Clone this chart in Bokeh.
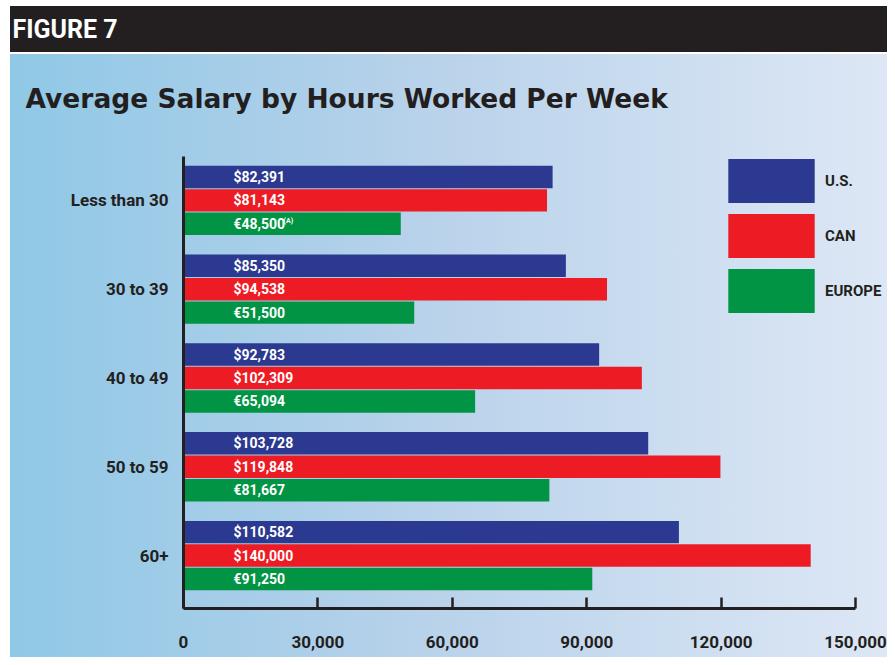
from bokeh.plotting import figure
from bokeh.models import (Range1d, FixedTicker, NumeralTickFormatter, Legend, LegendItem,
                          Title, ColumnDataSource)
from bokeh.core.properties import value
from bokeh.transform import dodge
from bokeh.embed import file_html
from bokeh.resources import INLINE

# ---- data ----
categories = ["Less than 30", "30 to 39", "40 to 49", "50 to 59", "60+"]
us_salary = [82391, 85350, 92783, 103728, 110582]
can_salary = [81143, 94538, 102309, 119848, 140000]
europe_salary = [48500, 51500, 65094, 81667, 91250]
europe_notes = ["(A)", "", "", "", ""]
series_names = ["U.S.", "CAN", "EUROPE"]
x_ticks = [0, 30000, 60000, 90000, 120000, 150000]
chart_title = "Average Salary by Hours Worked Per Week"
figure_label = "FIGURE 7"

# ---- styling ----
US_COL = "#2b3990"
CAN_COL = "#ed1c24"
EU_COL = "#009444"
INK = "#231f20"
COND = "Roboto"

X_MAX = x_ticks[-1]
X_END = X_MAX * 704 / 672          # frame continues past the axis end (room for legend)
Y_TOP, Y_AXIS_TOP, Y_BOTTOM = -0.663, -0.494, 4.596

idx = list(range(len(categories)))
src = ColumnDataSource(dict(
    y=idx,
    us=us_salary, can=can_salary, eu=europe_salary,
    us_lab=[f"${v:,}" for v in us_salary],
    can_lab=[f"${v:,}" for v in can_salary],
    eu_lab=[f"\u20ac{v:,}" for v in europe_salary],
    note=europe_notes,
))

p = figure(width=887, height=657, output_backend="svg", toolbar_location=None,
           x_range=Range1d(0, X_END), y_range=Range1d(Y_BOTTOM, Y_TOP),
           min_border_left=183, min_border_right=0, min_border_top=0,
           min_border_bottom=49)
p.background_fill_color = None
p.border_fill_color = None
p.outline_line_color = None
p.grid.visible = False
p.styles = {
    "background": (
        "linear-gradient(to right, #ffffff 0px, #ffffff 10px, rgba(255,255,255,0) 10px), "
        "linear-gradient(to bottom, #ffffff 0px, #ffffff 6px, #231f20 6px, #231f20 52px, "
        "#ffffff 52px, #ffffff 54px, rgba(255,255,255,0) 54px), "
        "linear-gradient(to right, #8ec8e6 0%, #b6d1ea 45%, #dde7f5 100%)")
}

# titles: figure label outermost (p.title), chart title next to the frame
p.title.text = figure_label
p.title.text_font = COND
p.title.text_font_style = "bold"
p.title.text_font_size = "25px"
p.title.text_color = "white"
p.title.align = "left"
p.title.offset = -171
p.title.vertical_align = "bottom"
p.title.standoff = 24
p.add_layout(Title(text=chart_title, text_font="DejaVu Sans", text_font_style="bold",
                   text_font_size="26.5px", text_color=INK, align="left",
                   offset=-158, vertical_align="middle", standoff=53), "above")

bh = 0.253
off = 0.264
r_us = p.hbar(y=dodge("y", -off), right="us", left=0, height=bh, source=src,
              fill_color=US_COL, line_color=None)
r_can = p.hbar(y="y", right="can", left=0, height=bh, source=src,
               fill_color=CAN_COL, line_color=None)
r_eu = p.hbar(y=dodge("y", off), right="eu", left=0, height=bh, source=src,
              fill_color=EU_COL, line_color=None)

for ycol, lab in [(dodge("y", -off), "us_lab"), ("y", "can_lab"), (dodge("y", off), "eu_lab")]:
    p.text(x=0, y=ycol, text=lab, source=src, x_offset=50,
           text_color="white", text_font=value(COND), text_font_style="bold",
           text_font_size="14px", text_baseline="middle", text_align="left")
p.text(x=0, y=dodge("y", off), text="note", source=src, x_offset=100, y_offset=-3,
       text_color="white", text_font=value(COND), text_font_style="bold",
       text_font_size="7px", text_baseline="middle", text_align="left")

# axes
xa = p.xaxis[0]
xa.ticker = FixedTicker(ticks=x_ticks)
xa.bounds = (0, X_MAX)
xa.formatter = NumeralTickFormatter(format="0,0")
xa.axis_line_color = INK
xa.axis_line_width = 3
xa.major_tick_line_color = INK
xa.major_tick_line_width = 2.5
xa.major_tick_in = 11
xa.major_tick_out = 0
xa.minor_tick_line_color = None
xa.major_label_standoff = 27
xa.major_label_text_font = COND
xa.major_label_text_font_style = "bold"
xa.major_label_text_font_size = "17px"
xa.major_label_text_color = INK

ya = p.yaxis[0]
ya.ticker = FixedTicker(ticks=idx)
ya.bounds = (Y_AXIS_TOP, Y_BOTTOM)
ya.major_label_overrides = {i: c for i, c in zip(idx, categories)}
ya.axis_line_color = INK
ya.axis_line_width = 3
ya.major_tick_line_color = None
ya.major_tick_in = 0
ya.major_tick_out = 0
ya.minor_tick_line_color = None
ya.major_label_standoff = 15
ya.major_label_text_font = COND
ya.major_label_text_font_style = "bold"
ya.major_label_text_font_size = "17px"
ya.major_label_text_color = INK

legend = Legend(items=[LegendItem(label=series_names[0], renderers=[r_us]),
                       LegendItem(label=series_names[1], renderers=[r_can]),
                       LegendItem(label=series_names[2], renderers=[r_eu])],
                glyph_width=108, glyph_height=55, spacing=0, padding=0, margin=0,
                label_standoff=0, border_line_color=None, background_fill_alpha=0,
                label_text_font=COND, label_text_font_style="bold",
                label_text_font_size="15px", label_text_color=INK,
                location=(534, 290))
p.add_layout(legend)

open("out.html", "w").write(file_html(p, INLINE))
